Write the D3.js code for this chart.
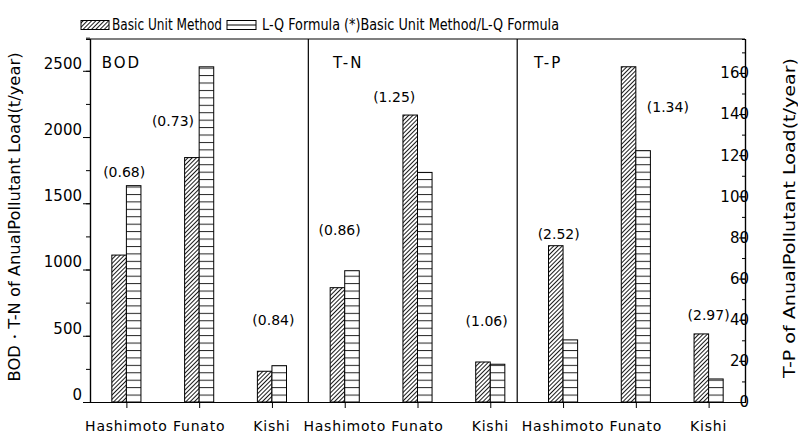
<!DOCTYPE html>
<html>
<head>
<meta charset="utf-8">
<script src="https://cdn.jsdelivr.net/npm/d3@7"></script>
<style>
  body { margin: 0; background: #fff; }
  text { font-family: "DejaVu Sans", sans-serif; fill: #000; }
</style>
</head>
<body>
<svg id="chart" width="798" height="435"></svg>
<script>
/* data */
const places = ["Hashimoto", "Funato", "Kishi"];
const panels = ["BOD", "T-N", "T-P"];
const basicBOD = [1109, 1845, 232];
const lqBOD = [1633, 2530, 274];
const basicTN = [863, 2166, 302];
const lqTN = [991, 1733, 285];
const basicTP = [76, 163, 33.1];
const lqTP = [30.2, 122.2, 11.2];
const ratioBOD = ["(0.68)", "(0.73)", "(0.84)"];
const ratioTN = ["(0.86)", "(1.25)", "(1.06)"];
const ratioTP = ["(2.52)", "(1.34)", "(2.97)"];
const leftTicks = [0, 500, 1000, 1500, 2000, 2500];
const rightTicks = [0, 20, 40, 60, 80, 100, 120, 140, 160];

/* where the ratio labels sit (category offset, axis value) */
const labelDx = [-0.03, -0.36, 0.02, -0.07, -0.32, -0.05, -0.06, 0.44, 0.0];
const labelVal = [1736, 2121, 619, 1298, 2302, 611, 81.5, 143.3, 42.3];

const svg = d3.select("#chart");
const m = { left: 90, right: 745, top: 39, bottom: 402 };

/* one long x axis, 3 panels x 3 places */
const x = d3.scaleLinear().domain([-0.5, 8.5]).range([m.left, m.right]);
const yL = d3.scaleLinear().domain([0, 2740]).range([m.bottom, m.top]);
const yR = d3.scaleLinear().domain([0, 176.5]).range([m.bottom, m.top]);
const barW = 0.2;
const dividers = [2.5, 5.37];

let rows = [];
[[basicBOD, lqBOD, ratioBOD, yL], [basicTN, lqTN, ratioTN, yL], [basicTP, lqTP, ratioTP, yR]]
  .forEach((p, pi) => {
    places.forEach((name, i) => {
      rows.push({ idx: pi * 3 + i, name: name, basic: p[0][i], lq: p[1][i], ratio: p[2][i], y: p[3] });
    });
  });

/* patterns */
let defs = svg.append("defs");
let hatch = defs.append("pattern")
  .attr("id", "hatch")
  .attr("patternUnits", "userSpaceOnUse")
  .attr("width", 3).attr("height", 3)
  .attr("patternTransform", "rotate(45)");
hatch.append("rect").attr("width", 3).attr("height", 3).attr("fill", "#fff");
hatch.append("line")
  .attr("x1", 1.5).attr("x2", 1.5).attr("y1", 0).attr("y2", 3)
  .attr("stroke", "#000").attr("stroke-width", 0.9);

let hl = defs.append("pattern")
  .attr("id", "hlines")
  .attr("patternUnits", "userSpaceOnUse")
  .attr("width", 10).attr("height", 7.43)
  .attr("y", m.bottom);
hl.append("rect").attr("width", 10).attr("height", 7.43).attr("fill", "#fff");
hl.append("line")
  .attr("x1", 0).attr("x2", 10).attr("y1", 0.5).attr("y2", 0.5)
  .attr("stroke", "#222").attr("stroke-width", 1);

/* bars */
let bars = svg.append("g").attr("id", "bars");
bars.selectAll("rect.basic")
  .data(rows)
  .join("rect")
  .attr("class", "basic")
  .attr("x", d => x(d.idx - barW))
  .attr("width", x(barW) - x(0))
  .attr("y", d => d.y(d.basic))
  .attr("height", d => m.bottom - d.y(d.basic))
  .attr("fill", "url(#hatch)")
  .attr("stroke", "#000").attr("stroke-width", 1);

bars.selectAll("rect.lq")
  .data(rows)
  .join("rect")
  .attr("class", "lq")
  .attr("x", d => x(d.idx))
  .attr("width", x(barW) - x(0))
  .attr("y", d => d.y(d.lq))
  .attr("height", d => m.bottom - d.y(d.lq))
  .attr("fill", "url(#hlines)")
  .attr("stroke", "#000").attr("stroke-width", 1);

/* ratio labels */
svg.append("g").selectAll("text")
  .data(rows)
  .join("text")
  .attr("x", (d, i) => x(d.idx + labelDx[i]))
  .attr("y", (d, i) => d.y(labelVal[i]))
  .attr("dy", "0.35em")
  .attr("text-anchor", "middle")
  .style("font-size", "14px")
  .text(d => d.ratio);

/* frame + dividers */
svg.append("line")
  .attr("x1", m.left).attr("x2", m.right).attr("y1", m.top).attr("y2", m.top)
  .attr("stroke", "#000").attr("stroke-width", 1.2);
svg.selectAll("line.div")
  .data(dividers)
  .join("line")
  .attr("class", "div")
  .attr("x1", d => x(d)).attr("x2", d => x(d))
  .attr("y1", m.top).attr("y2", m.bottom)
  .attr("stroke", "#000").attr("stroke-width", 1.2);

/* panel titles */
const titleAt = [-0.34, 2.84, 5.6];
svg.selectAll("text.ptitle")
  .data(panels)
  .join("text")
  .attr("class", "ptitle")
  .attr("x", (d, i) => x(titleAt[i]))
  .attr("y", 68)
  .style("font-size", "15px")
  .style("letter-spacing", "2px")
  .text(d => d);

/* left axis */
let axL = svg.append("g").attr("transform", "translate(" + m.left + ",0)");
axL.call(d3.axisLeft(yL).tickValues(d3.range(0, 2751, 250)).tickSize(4).tickFormat(""));
axL.append("g")
  .call(d3.axisLeft(yL).tickValues(leftTicks).tickSize(7).tickSizeOuter(0)
    .tickPadding(1).tickFormat(d3.format("d")));
axL.selectAll("path.domain").attr("stroke-width", 1.2);
axL.selectAll("text")
  .attr("dy", -2.6)
  .style("font-size", "15px")
  .style("font-family", "DejaVu Sans")
  .attr("fill", "#000");

/* right axis, ticks pointing inward */
let axR = svg.append("g").attr("transform", "translate(" + m.right + ",0)");
axR.call(d3.axisLeft(yR).tickValues(d3.range(0, 171, 10)).tickSize(3).tickFormat(""));
axR.append("g")
  .call(d3.axisLeft(yR).tickValues(rightTicks).tickSize(6).tickSizeOuter(0).tickFormat(""));
axR.selectAll("path.domain").attr("stroke-width", 1.2);
axR.append("g").selectAll("text")
  .data(rightTicks)
  .join("text")
  .attr("x", 4)
  .attr("y", d => yR(d))
  .attr("dy", "0.36em")
  .style("font-size", "15px")
  .text(d => d);

/* x axis */
let axX = svg.append("g").attr("transform", "translate(0," + m.bottom + ")");
axX.call(d3.axisBottom(x).tickValues(d3.range(9)).tickSize(6).tickSizeOuter(0).tickFormat(""));
axX.selectAll("path.domain").attr("stroke-width", 1.2);
axX.selectAll("text.place")
  .data(rows)
  .join("text")
  .attr("class", "place")
  .attr("x", d => x(d.idx))
  .attr("y", 29)
  .attr("text-anchor", "middle")
  .style("font-size", "14px")
  .style("letter-spacing", "0.8px")
  .text(d => d.name);

/* axis titles */
svg.append("text")
  .attr("transform", "translate(20,217) rotate(-90)")
  .attr("text-anchor", "middle")
  .attr("textLength", 329)
  .attr("lengthAdjust", "spacingAndGlyphs")
  .style("font-size", "15px")
  .text("BOD・T-N of AnualPollutant Load(t/year)");

svg.append("text")
  .attr("transform", "translate(795,218) rotate(-90)")
  .attr("text-anchor", "middle")
  .attr("textLength", 320)
  .attr("lengthAdjust", "spacingAndGlyphs")
  .style("font-size", "15px")
  .text("T-P of AnualPollutant Load(t/year)");

/* legend */
let lg = svg.append("g").attr("id", "legend");
lg.append("rect").attr("x", 81).attr("y", 20.5).attr("width", 28).attr("height", 9)
  .attr("fill", "url(#hatch)").attr("stroke", "#000");
lg.append("text").attr("x", 112).attr("y", 30)
  .attr("textLength", 110).attr("lengthAdjust", "spacingAndGlyphs")
  .style("font-size", "15px")
  .text("Basic Unit Method");
lg.append("rect").attr("x", 227).attr("y", 20.5).attr("width", 29).attr("height", 9)
  .attr("fill", "#fff").attr("stroke", "#000");
lg.append("line").attr("x1", 227).attr("x2", 256).attr("y1", 25).attr("y2", 25)
  .attr("stroke", "#000");
lg.append("text").attr("x", 262).attr("y", 30)
  .attr("textLength", 297).attr("lengthAdjust", "spacingAndGlyphs")
  .style("font-size", "15px")
  .text("L-Q Formula (*)Basic Unit Method/L-Q Formula");
</script>
</body>
</html>
